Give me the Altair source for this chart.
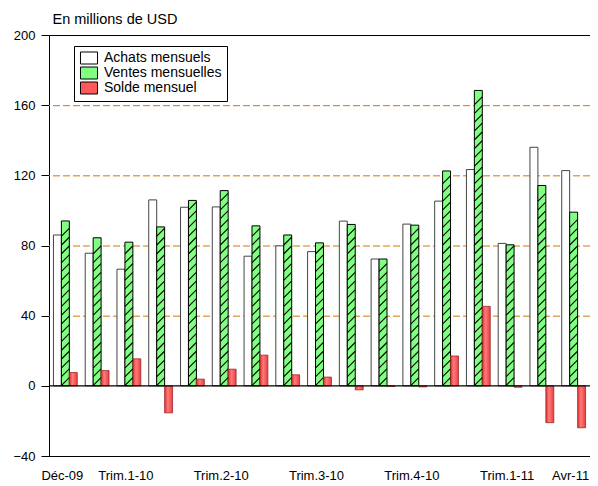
import altair as alt
import pandas as pd
import numpy as np

months = ["Déc-09", "Jan-10", "Fév-10", "Mar-10", "Avr-10", "Mai-10", "Juin-10",
          "Juil-10", "Août-10", "Sep-10", "Oct-10", "Nov-10", "Déc-10", "Jan-11",
          "Fév-11", "Mar-11", "Avr-11"]
tick_labels = ["Déc-09", "", "Trim.1-10", "", "", "Trim.2-10", "", "", "Trim.3-10",
               "", "", "Trim.4-10", "", "", "Trim.1-11", "", "Avr-11"]
achats = [86, 75.6, 66.5, 106, 101.8, 102, 73.9, 79.8, 76.5, 93.9, 72.3, 92.2,
          105.3, 123.3, 81.2, 136, 122.7]
ventes = [94, 84.4, 81.9, 90.6, 105.7, 111.3, 91.2, 86, 81.5, 92, 72.3, 91.6,
          122.5, 168.4, 80.4, 114.2, 99]
solde = [7.6, 8.7, 15.4, -15.4, 3.8, 9.5, 17.5, 6.3, 5.0, -2.3, -0.3, -0.6,
         17.0, 45.3, -0.8, -21.0, -23.9]
series = ["Achats mensuels", "Ventes mensuelles", "Solde mensuel"]
colors = ["#FFFFFF", "#80FF80", "#FF5A5A"]
y_ticks = [-40, 0, 40, 80, 120, 160, 200]
grid_vals = [40, 80, 120, 160]

rows = []
for m, a, v, s in zip(months, achats, ventes, solde):
    rows.append({"mois": m, "serie": series[0], "val": a})
    rows.append({"mois": m, "serie": series[1], "val": v})
    rows.append({"mois": m, "serie": series[2], "val": s})
df = pd.DataFrame(rows)

# hatch marks for the "Ventes" bars, derived from the bar heights
hatch = []
for m, v in zip(months, ventes):
    for yv in np.arange(2.5, v - 2.0, 5.0):
        hatch.append({"mois": m, "serie": series[1], "val": float(yv)})
hdf = pd.DataFrame(hatch)

label_expr = "[" + ",".join("'%s'" % t for t in tick_labels) + "][indexof([" + \
    ",".join("'%s'" % m for m in months) + "], datum.value)]"

FONT = "Liberation Sans"

x_enc = alt.X("mois:N", sort=months,
              scale=alt.Scale(paddingInner=0.25, paddingOuter=0.14),
              axis=alt.Axis(title=None, labelAngle=0, ticks=False, labelPadding=13,
                            labelExpr=label_expr, labelFontSize=13, labelFont=FONT,
                            labelColor="black", domainColor="black", grid=False,
                            labelOverlap=False, labelOffset=-3))
xo_enc = alt.XOffset("serie:N", scale=alt.Scale(domain=series, paddingInner=0, paddingOuter=0))
y_enc = alt.Y("val:Q", scale=alt.Scale(domain=[-40, 200], nice=False, zero=False),
              axis=alt.Axis(values=y_ticks, title="En millions de USD", titleAngle=0,
                            titleAlign="left", titleBaseline="alphabetic", titleX=3,
                            titleY=-12, titleFontWeight="normal", titleFontSize=14.5,
                            titleFont=FONT, titleColor="black", labelFontSize=13,
                            labelFont=FONT, labelColor="black", tickSize=8,
                            tickColor="black", labelPadding=6, domainColor="black",
                            grid=False))

fill_enc = alt.Fill("serie:N", scale=alt.Scale(domain=series, range=colors),
                    legend=alt.Legend(orient="none", legendX=25, legendY=11, title=None,
                                      strokeColor="black", fillColor="white", padding=5,
                                      symbolType="M-1.42,-1H1.42V1H-1.42Z", symbolSize=144,
                                      symbolStrokeColor="black", symbolStrokeWidth=1,
                                      symbolOffset=3, symbolOpacity=1, labelFontSize=14,
                                      labelFont=FONT, labelColor="black", rowPadding=-1,
                                      labelOffset=8, cornerRadius=0))

grid = alt.Chart(pd.DataFrame({"g": grid_vals})).mark_rule(
    color="#D07A00", strokeDash=[7, 3], strokeWidth=1, yOffset=0.5
).encode(y=alt.Y("g:Q"))

base = alt.Chart(df).encode(x=x_enc, xOffset=xo_enc, y=y_enc, y2=alt.datum(0))

bars_a = base.transform_filter(alt.datum.serie == series[0]).mark_bar(
    stroke="#444444", strokeWidth=1).encode(fill=fill_enc)
bars_v = base.transform_filter(alt.datum.serie == series[1]).mark_bar(
    stroke="black", strokeWidth=1).encode(fill=fill_enc)
red_grad = alt.LinearGradient(
    gradient="linear", x1=0, x2=1, y1=0, y2=0,
    stops=[alt.GradientStop(color="#E03030", offset=0),
           alt.GradientStop(color="#FF7A7A", offset=0.4),
           alt.GradientStop(color="#E84040", offset=1)])
bars_s = base.transform_filter(alt.datum.serie == series[2]).mark_bar(
    fill=red_grad, stroke="#9A2A2A", strokeWidth=0.8)

hatch_layer = alt.Chart(hdf).mark_point(
    shape="M-1,1L1,-1", size=60, stroke="black", strokeWidth=1.1, filled=False,
    opacity=1
).encode(x=alt.X("mois:N", sort=months), xOffset=alt.XOffset("serie:N"),
         y=alt.Y("val:Q"))

zero = alt.Chart(pd.DataFrame({"z": [0]})).mark_rule(color="black", strokeWidth=1.2).encode(
    y=alt.Y("z:Q"))

chart = alt.layer(grid, bars_a, bars_v, bars_s, hatch_layer, zero).properties(
    width=541, height=421,
    autosize=alt.AutoSizeParams(type="none"),
    padding={"left": 41, "top": 27, "right": 0, "bottom": 30},
    background="white",
).configure_view(stroke="black", strokeWidth=1)

chart.save("out.html", embed_options={"renderer": "svg", "actions": False})
